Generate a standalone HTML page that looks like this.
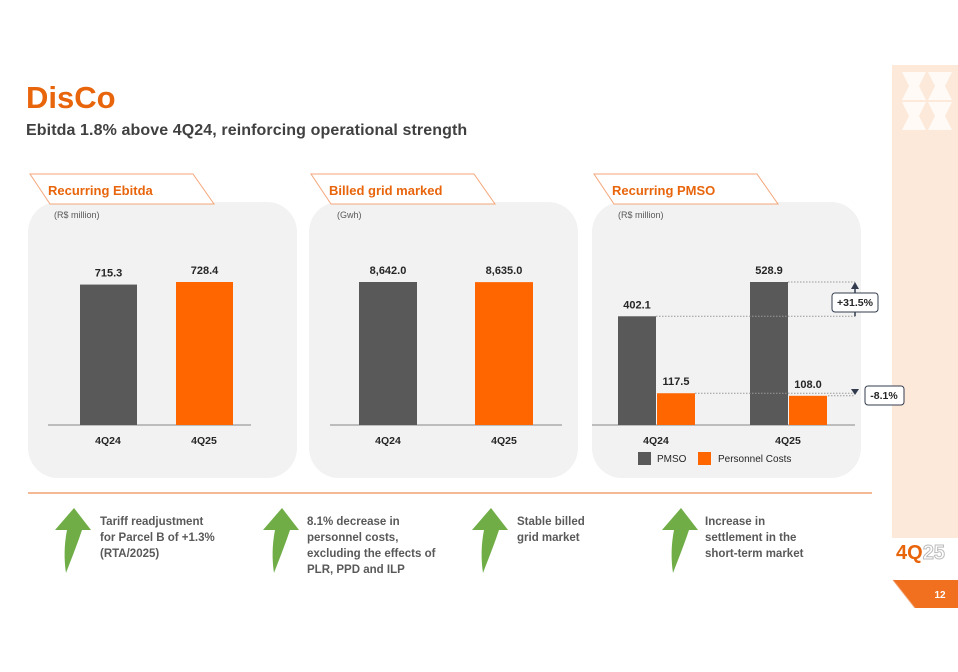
<!DOCTYPE html>
<html><head><meta charset="utf-8"><style>
body{margin:0;width:958px;height:672px;background:#fff;overflow:hidden;font-family:"Liberation Sans",sans-serif;position:relative}
.t{position:absolute;white-space:nowrap}
.note{position:absolute;font-size:11.5px;font-weight:bold;color:#595959;line-height:16px}
</style></head><body>
<div class="t" style="left:26px;top:80px;font-size:31px;font-weight:bold;color:#e8650c">DisCo</div>
<div class="t" style="left:26px;top:122px;font-size:16px;font-weight:bold;color:#404040;letter-spacing:0.1px">Ebitda 1.8% above 4Q24, reinforcing operational strength</div>
<div style="position:absolute;left:892px;top:65px;width:66px;height:473px;background:#fde9da"></div>
<div class="t" style="left:896px;top:542px;font-size:20px;font-weight:bold;color:#e8650c">4Q<span style="color:#fff;-webkit-text-stroke:1px #bbb">25</span></div>
<svg id="chart" width="958" height="672" style="position:absolute;left:0;top:0"></svg>
<div class="note" style="left:100px;top:514px">Tariff readjustment<br>for Parcel B of +1.3%<br>(RTA/2025)</div>
<div class="note" style="left:307px;top:514px">8.1% decrease in<br>personnel costs,<br>excluding the effects of<br>PLR, PPD and ILP</div>
<div class="note" style="left:517px;top:514px">Stable billed<br>grid market</div>
<div class="note" style="left:705px;top:514px">Increase in<br>settlement in the<br>short-term market</div>
<script>
const categories=["4Q24","4Q25"];
const ebitdaValues=[715.3,728.4];
const gridValues=[8642.0,8635.0];
const pmsoValues=[402.1,528.9];
const personnelValues=[117.5,108.0];
const ebitdaLabels=["715.3","728.4"];
const gridLabels=["8,642.0","8,635.0"];
const pmsoLabels=["402.1","528.9"];
const personnelLabels=["117.5","108.0"];
const changeLabels=["+31.5%","-8.1%"];

const NS="http://www.w3.org/2000/svg";
const svg=document.getElementById('chart');
function mk(tag,attrs,name,txt){const e=document.createElementNS(NS,tag);for(const k in attrs)e.setAttribute(k,attrs[k]);


if(txt!==undefined)e.textContent=txt;svg.appendChild(e);return e;}
const BASE=425;
const yE=v=>BASE-v*(143/728.4);
const yG=v=>BASE-v*(143/8642);
const yP=v=>BASE-v*(143/528.9);

const panels=[[28,"Recurring Ebitda","(R$ million)"],[309,"Billed grid marked","(Gwh)"],[592,"Recurring PMSO","(R$ million)"]];
panels.forEach(([x,title,unit],i)=>{
  mk('rect',{x:x,y:202,width:269,height:276,rx:30,fill:'#f2f2f2'},'panel-bg');
  mk('polygon',{points:`${x+2},174 ${x+165},174 ${x+186},204 ${x+22},204`,fill:'#fff',stroke:'#f4a67a','stroke-width':1},'panel-tab');
  mk('text',{x:x+20,y:195,'font-size':13,'font-weight':'bold',fill:'#e8650c'},'panel-title',title);
  mk('text',{x:x+(i==1?28:26),y:218,'font-size':9,fill:'#595959'},'unit-label',unit);
});
mk('line',{x1:28,y1:493,x2:872,y2:493,stroke:'#f0a070','stroke-width':1.5},'separator');

function bar(x,w,ytop,color,name,label){
  mk('rect',{x:x,y:ytop,width:w,height:BASE-ytop,fill:color},name);
  mk('text',{x:x+w/2,y:ytop-8,'font-size':11,'font-weight':'bold',fill:'#262626','text-anchor':'middle'},'value-label',label);
}
mk('line',{x1:48,y1:BASE,x2:251,y2:BASE,stroke:'#888'},'x-axis');
[80,176].forEach((x,i)=>{bar(x,57,yE(ebitdaValues[i]),i?'#ff6600':'#595959','ebitda-bar-'+categories[i],ebitdaLabels[i]);
 mk('text',{x:x+28,y:444,'font-size':10.5,'font-weight':'bold',fill:'#262626','text-anchor':'middle'},'x-tick',categories[i]);});
mk('line',{x1:330,y1:BASE,x2:562,y2:BASE,stroke:'#888'},'x-axis');
[359,475].forEach((x,i)=>{bar(x,58,yG(gridValues[i]),i?'#ff6600':'#595959','grid-bar-'+categories[i],gridLabels[i]);
 mk('text',{x:x+29,y:444,'font-size':10.5,'font-weight':'bold',fill:'#262626','text-anchor':'middle'},'x-tick',categories[i]);});
mk('line',{x1:592,y1:BASE,x2:855,y2:BASE,stroke:'#888'},'x-axis');
[618,750].forEach((x,i)=>{
 bar(x,38,yP(pmsoValues[i]),'#595959','pmso-bar-'+categories[i],pmsoLabels[i]);
 bar(x+39,38,yP(personnelValues[i]),'#ff6600','personnel-bar-'+categories[i],personnelLabels[i]);
 mk('text',{x:x+38,y:444,'font-size':10.5,'font-weight':'bold',fill:'#262626','text-anchor':'middle'},'x-tick',categories[i]);});
[[yP(pmsoValues[0]),656],[yP(pmsoValues[1]),788],[yP(personnelValues[0]),695],[yP(personnelValues[1]),828]].forEach(([y,x1])=>{
 mk('line',{x1:x1,y1:y,x2:855,y2:y,stroke:'#999','stroke-dasharray':'1.5,1.5'},'reference-line');});
mk('line',{x1:855,y1:yP(pmsoValues[0]),x2:855,y2:yP(pmsoValues[1])+4,stroke:'#333c4e','stroke-width':1.5},'change-arrow');
mk('polygon',{points:`851,${yP(pmsoValues[1])+7} 859,${yP(pmsoValues[1])+7} 855,${yP(pmsoValues[1])}`,fill:'#333c4e'},'change-arrow-head');
mk('rect',{x:832,y:293,width:46,height:19,rx:3,fill:'#fff',stroke:'#333c4e'},'change-box');
mk('text',{x:855,y:306,'font-size':10.5,'font-weight':'bold',fill:'#262626','text-anchor':'middle'},'change-label',changeLabels[0]);
mk('polygon',{points:`851,389 859,389 855,395`,fill:'#333c4e'},'change-arrow-head');
mk('rect',{x:865,y:386,width:39,height:19,rx:3,fill:'#fff',stroke:'#333c4e'},'change-box');
mk('text',{x:884,y:399,'font-size':10.5,'font-weight':'bold',fill:'#262626','text-anchor':'middle'},'change-label',changeLabels[1]);
mk('rect',{x:638,y:452,width:13,height:13,fill:'#595959'},'legend-swatch-pmso');
mk('text',{x:657,y:462,'font-size':10,fill:'#262626'},'legend-label-pmso','PMSO');
mk('rect',{x:698,y:452,width:13,height:13,fill:'#ff6600'},'legend-swatch-personnel');
mk('text',{x:718,y:462,'font-size':10,fill:'#262626'},'legend-label-personnel','Personnel Costs');
[55,263,472,662].forEach(x=>{
 mk('path',{d:`M${x},530 L${x+19},508 L${x+36},530 L${x+27},530 C${x+22},545 ${x+16},560 ${x+11},573 C${x+9},560 ${x+9},545 ${x+12},530 Z`,fill:'#70ad47'},'up-arrow-icon');});
[[902,72],[928,72],[902,102],[928,102]].forEach(([x,y])=>{
 mk('polygon',{points:`${x},${y} ${x+24},${y} ${x+17},${y+14} ${x+24},${y+28} ${x},${y+28} ${x+7},${y+14}`,fill:'#fff',opacity:0.75},'logo-shape');});
mk('polygon',{points:`893,580 958,580 958,608 915,608`,fill:'#f07020'},'page-number-tab');
mk('line',{x1:893,y1:580,x2:915,y2:608,stroke:'#f0a070'},'page-tab-edge');
mk('text',{x:940,y:598,'font-size':10,'font-weight':'bold',fill:'#fff','text-anchor':'middle'},'page-number','12');
</script>
</body></html>
